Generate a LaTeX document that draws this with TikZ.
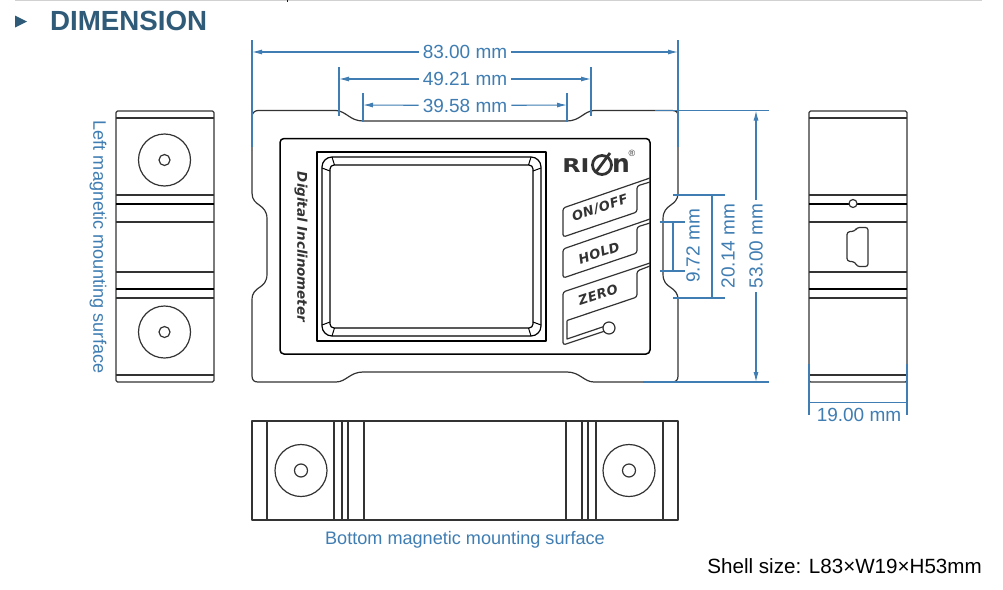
\documentclass[tikz,border=0pt]{standalone}
\usepackage{fontspec}
\setmainfont{Liberation Sans}
\newfontfamily\btnfont[LetterSpace=4]{DejaVu Sans}
\newfontfamily\logofont{DejaVu Sans}
\usetikzlibrary{arrows.meta}
\definecolor{dimblue}{HTML}{3F7DB2}
\definecolor{headblue}{HTML}{2F5B78}
\definecolor{ink}{HTML}{333333}
\newcommand{\dimfont}{\fontsize{19}{22}\selectfont}
\tikzset{
  body/.style={draw=ink,line width=1.2pt,line join=round},
  heavy/.style={draw=black,line width=2.2pt},
  dimline/.style={draw=dimblue,line width=1.1pt},
  dimarrow/.style={dimline,-{Latex[length=10pt,width=5pt]}},
  dimtext/.style={text=dimblue,font=\dimfont,inner sep=4pt},
  btntext/.style={text=ink,rotate=18.4,font=\btnfont\bfseries\itshape\fontsize{13}{15}\selectfont,inner sep=0pt},
}
% a side view: horizontal bands on a block
\newcommand{\bands}[1]{%
  \draw[body,rounded corners=1.5pt] (#1,111) rectangle ++(98,271);
  \foreach \yy in {118,195,222,272,298,375}{\draw[body] (#1,\yy) -- ++(98,0);}
  \draw[heavy] (#1,204) -- ++(98,0);
  \draw[heavy] (#1,289) -- ++(98,0);
}
\begin{document}
\begin{tikzpicture}[x=1pt,y=-1pt]
\useasboundingbox (0,0) rectangle (1003,589);
\fill[white] (0,0) rectangle (1003,589);
% top edge of the page
\draw[draw=black!18,line width=1.8pt] (15,0.5) -- (982,0.5);
\draw[draw=black!70!red,line width=1pt] (287,0) -- (287,2);
% heading
\fill[headblue] (15,15.5) -- (27,21.5) -- (15,27.5) -- cycle;
\node[anchor=west,inner sep=0pt,text=headblue,font=\bfseries\fontsize{27.7}{30}\selectfont] (head) at (50,21) {DIMENSION};

% shell
\draw[body,rounded corners=6pt] (252,150) -- (252,110.5) -- (336,110.5);
\draw[body] (336,110.5) .. controls (346,111) and (350,121) .. (363,121) -- (567,121) .. controls (580,121) and (584,111) .. (594,110.5) -- (672,110.5) .. controls (676,110.5) and (678,112) .. (678,116) -- (678,193)
  .. controls (678,207) and (663,203) .. (663,219) -- (663,274)
  .. controls (663,290) and (678,285) .. (678,300) -- (678,376) .. controls (678,380) and (676,382) .. (672,382) -- (594,382)
  .. controls (584,382) and (580,372) .. (567,372) -- (363,372)
  .. controls (350,372) and (346,382) .. (336,382) -- (258,382) .. controls (254,382) and (252,380) .. (252,376) -- (252,300)
  .. controls (252,285) and (267,290) .. (267,274) -- (267,219)
  .. controls (267,203) and (252,207) .. (252,193) -- (252,150);
% panel
\draw[body,line width=1.5pt,draw=black,rounded corners=4pt] (280,138.5) rectangle (650,354);
% screen
\draw[body,draw=black] (317,152) rectangle (546,341);
\draw[body,draw=black,rounded corners=10pt] (322,157) rectangle (541,336);
\draw[body,draw=black,rounded corners=4pt] (330,165) rectangle (533,328);
\foreach \sx/\sy in {1/1,-1/1,1/-1,-1/-1}{
  \begin{scope}[shift={(431.5,246.5)},xscale=\sx,yscale=\sy]
    \draw[body,draw=black,line width=1pt] (-109.5,-78.5) -- (-101.5,-75.5);
    \draw[body,draw=black,line width=1pt] (-99.5,-89.5) -- (-97,-81.5);
  \end{scope}
}
\node[rotate=-90,inner sep=0pt,text=ink,font=\logofont\bfseries\itshape\fontsize{13.4}{15}\selectfont] (brand) at (301,247) {Digital Inclinometer};
% logo
\node[anchor=base west,inner sep=0pt,xscale=1.25,text=ink,font=\logofont\bfseries\fontsize{19}{20}\selectfont] (logoa) at (562,172) {RI};
\draw[ink,line width=2.8pt] (602,165) circle[radius=9.5];
\draw[ink,line width=2.8pt] (596,172) -- (610,153);
\node[anchor=base west,inner sep=0pt,text=ink,font=\logofont\bfseries\fontsize{25}{26}\selectfont] (logob) at (612,172) {n};
\node[inner sep=0pt,text=ink,font=\fontsize{9}{10}\selectfont] (logor) at (632,153.5) {®};
% buttons
\foreach \dy in {0,41}{
  \begin{scope}[yshift=-\dy pt]
    \draw[body,rounded corners=2.5pt] (650,178) -- (563,208) -- (563,237) -- (637,212) -- (637,186) -- (650,182);
  \end{scope}
}
\draw[body,rounded corners=2.5pt] (650,263) -- (563,292) -- (563,345) -- (605,331);
\draw[body,rounded corners=2.5pt] (650,266) -- (637,271) -- (637,297) -- (567,320.5);
\draw[body] (567,320.5) -- (567,339) -- (604,326.5);
\draw[body,fill=white] (609,328) circle[radius=6];
\node[btntext] (bon) at (600,208) {ON/OFF};
\node[btntext] (bhold) at (599,253) {HOLD};
\node[btntext] (bzero) at (598,295) {ZERO};

% left view
\bands{116}
\draw[body] (164.5,160) circle[radius=26];
\draw[body] (164.5,160) circle[radius=5.5];
\draw[body] (164.5,332) circle[radius=26];
\draw[body] (164.5,332) circle[radius=5.5];
\node[rotate=-90,text=dimblue,inner sep=0pt,font=\fontsize{18.1}{20}\selectfont] (leftlab) at (98,247) {Left magnetic mounting surface};

% right view
\bands{809}
\draw[body,fill=white] (853,203.5) circle[radius=4];
\draw[body,rounded corners=2.5pt] (847,232) -- (855,231) -- (857,227.5) -- (868,227.5) -- (868,266.5) -- (857,266.5) -- (855,262) -- (847,261) -- cycle;

% bottom view
\draw[body] (252,421) rectangle (678,520);
\foreach \xx in {267,334,342,348,364,566,582,588,596,663}{\draw[body] (\xx,421) -- (\xx,520);}
\foreach \xx in {301,629}{
  \draw[body] (\xx,470.5) circle[radius=26];
  \draw[body] (\xx,470.5) circle[radius=6.5];
}
\node[text=dimblue,inner sep=0pt,font=\fontsize{18.1}{20}\selectfont] (botlab) at (465,539.5) {Bottom magnetic mounting surface};
\node[anchor=east,inner sep=0pt,text=black,font=\fontsize{20.6}{24}\selectfont] (shell) at (982,566.5) {Shell size: L83×W19×H53mm};

% dimensions: top
\coordinate (a1) at (252,52); \coordinate (a2) at (678,52);
\coordinate (b1) at (339,79); \coordinate (b2) at (591,79);
\coordinate (c1) at (363,105); \coordinate (c2) at (567,105);
\node[dimtext] (d83) at (465,52) {83.00 mm};
\node[dimtext] (d49) at (465,79) {49.21 mm};
\node[dimtext] (d39) at (465,105.5) {39.58 mm};
\draw[dimarrow] (d83) -- (a1);
\draw[dimarrow] (d83) -- (a2);
\draw[dimarrow] (d49) -- (b1);
\draw[dimarrow] (d49) -- (b2);
\draw[dimarrow] (d39) -- (c1);
\draw[dimarrow] (d39) -- (c2);
\draw[dimline] (252,40) -- (252,147);
\draw[dimline] (678,40) -- (678,147);
\draw[dimline] (339,67) -- (339,116);
\draw[dimline] (591,67) -- (591,116);
\draw[dimline] (363,93) -- (363,122);
\draw[dimline] (567,93) -- (567,122);

% dimensions: right
\coordinate (e1) at (756,110.5); \coordinate (e2) at (756,382);
\node[dimtext,rotate=90] (d53) at (756,246) {53.00 mm};
\draw[dimarrow] (d53) -- (e1);
\draw[dimarrow] (d53) -- (e2);
\draw[dimline] (655,110.5) -- (769,110.5);
\draw[dimline] (643,382) -- (769,382);
\node[dimtext,rotate=90,inner sep=0pt] (d20) at (728,246) {20.14 mm};
\draw[dimline] (673,195) -- (725,195);
\draw[dimline] (673,298) -- (725,298);
\draw[dimline] (712,195) -- (712,298);
\node[dimtext,rotate=90,inner sep=0pt] (d9) at (693,246) {9.72 mm};
\draw[dimline] (660,222) -- (685,222);
\draw[dimline] (660,271) -- (685,271);
\draw[dimline] (673,222) -- (673,271);

% dimension: width of right view
\node[dimtext,inner sep=0pt] (d19) at (859,414.5) {19.00 mm};
\draw[dimline] (809,364) -- (809,415);
\draw[dimline] (907,364) -- (907,415);
\draw[dimline] (809,402.5) -- (907,402.5);
\end{tikzpicture}
\end{document}
